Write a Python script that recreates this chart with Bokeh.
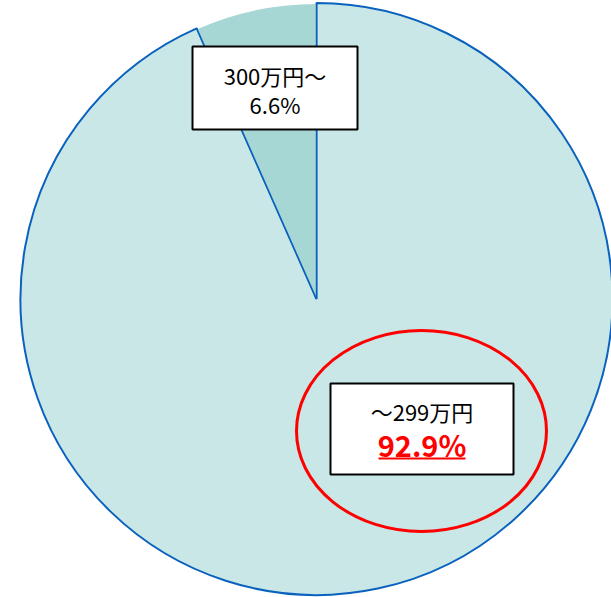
import math
from bokeh.plotting import figure
from bokeh.models import Range1d
from bokeh.core.properties import value
from bokeh.embed import file_html
from bokeh.resources import INLINE

# data
categories = ["300万円～", "～299万円"]
shares = [6.6, 92.9]
pct_labels = ["6.6%", "92.9%"]

W, H = 611, 597
p = figure(width=W, height=H, output_backend="svg", toolbar_location=None,
           x_range=Range1d(0, W), y_range=Range1d(0, H),
           x_axis_location=None, y_axis_location=None, min_border=0)
p.grid.visible = False
p.outline_line_color = None
p.background_fill_color = "white"

def Y(y):
    return H - y

cx, cy, r = 316, Y(298.5), 296

total = sum(shares)
start = math.pi / 2
angles = []
for s in shares:
    end = start + 2 * math.pi * s / total
    angles.append((start, end))
    start = end

# big slice (with outline)
a0, a1 = angles[1]
p.wedge(x=[cx], y=[cy], radius=[r], start_angle=[a0], end_angle=[a1],
        fill_color="#C9E7E7", line_color="#0B62BE", line_width=2)
# small slice (no outline)
a0, a1 = angles[0]
p.wedge(x=[cx], y=[cy], radius=[r - 1], start_angle=[a0], end_angle=[a1],
        fill_color="#A7D7D5", line_color=None)
# radial edges of small slice in blue
for a in (angles[0][0], angles[0][1]):
    p.line(x=[cx, cx + r * math.cos(a)], y=[cy, cy + r * math.sin(a)],
           line_color="#0B62BE", line_width=1.4)

font = value("Noto Sans CJK JP")

# label box 1
p.quad(left=[192], right=[357], top=[Y(46)], bottom=[Y(129)],
       fill_color="white", line_color="black", line_width=2)
p.text(x=[274.5], y=[Y(74)], text=[categories[0]], text_font=font,
       text_font_size="22px", text_align="center", text_baseline="middle",
       text_color="black")
p.text(x=[274.5], y=[Y(103)], text=[pct_labels[0]], text_font=font,
       text_font_size="22px", text_align="center", text_baseline="middle",
       text_color="black")

# label box 2
p.quad(left=[330], right=[513], top=[Y(383)], bottom=[Y(474)],
       fill_color="white", line_color="black", line_width=2)
p.text(x=[421.5], y=[Y(410)], text=[categories[1]], text_font=font,
       text_font_size="22px", text_align="center", text_baseline="middle",
       text_color="black")
p.text(x=[421.5], y=[Y(443)], text=[pct_labels[1]], text_font=font,
       text_font_size="29px", text_font_style="bold", text_align="center",
       text_baseline="middle", text_color="#FF0000")
p.line(x=[378, 465], y=[Y(458), Y(458)], line_color="#FF0000", line_width=2)

# red highlight ellipse
p.ellipse(x=[421], y=[Y(430.5)], width=[250], height=[201],
          fill_color=None, line_color="#FF0000", line_width=3)

open("out.html", "w").write(file_html(p, INLINE))
